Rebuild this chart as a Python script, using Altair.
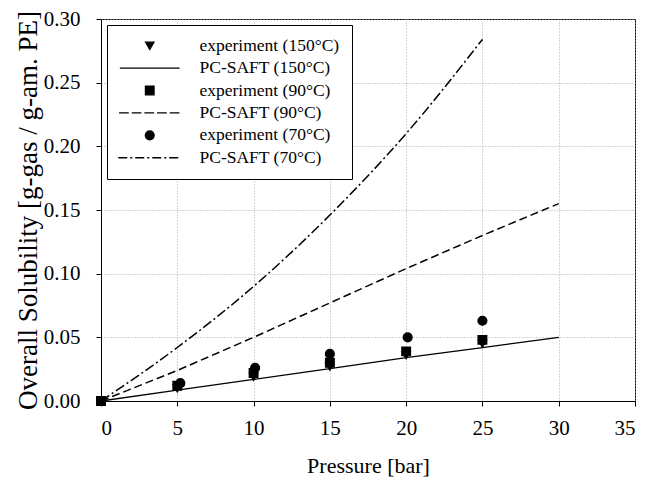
import altair as alt
import pandas as pd

# ---------------- data ----------------
labels = [
    "experiment (150°C)",
    "PC-SAFT (150°C)",
    "experiment (90°C)",
    "PC-SAFT (90°C)",
    "experiment (70°C)",
    "PC-SAFT (70°C)",
]

p_exp150 = [0, 5, 10, 15, 20, 25]
exp150 = [0.0, 0.010, 0.019, 0.027, 0.036, 0.045]
p_exp90 = [0, 5, 10, 15, 20, 25]
exp90 = [0.0, 0.012, 0.022, 0.030, 0.039, 0.048]
p_exp70 = [0, 5.2, 10.1, 15, 20.1, 25]
exp70 = [0.0, 0.014, 0.026, 0.037, 0.050, 0.063]

p_saft150 = [0, 5, 10, 15, 20, 25, 30]
saft150 = [0.0, 0.0085, 0.017, 0.0255, 0.034, 0.042, 0.050]
p_saft90 = [0, 5, 10, 15, 20, 25, 30]
saft90 = [0.0, 0.024, 0.050, 0.077, 0.104, 0.130, 0.155]
p_saft70 = [0, 5, 10, 15, 20, 25]
saft70 = [0.0, 0.042, 0.090, 0.146, 0.210, 0.284]

x_ticks = [0, 5, 10, 15, 20, 25, 30, 35]
y_ticks = [0.0, 0.05, 0.10, 0.15, 0.20, 0.25, 0.30]

FONT = "Liberation Serif"

# ---------------- legend symbols (styles) ----------------
LEG_SIZE = 80
S = (LEG_SIZE ** 0.5) / 2.0
LINE_LEN = 63.0


def dash_path(pattern, length_px=LINE_LEN):
    half = length_px / 2.0
    segs = []
    x = -half
    i = 0
    while x < half - 1e-9:
        seg = pattern[i % len(pattern)]
        if i % 2 == 0:
            x2 = min(x + seg, half)
            segs.append(f"M{x / S:.3f},0H{x2 / S:.3f}")
        x += seg
        i += 1
    return "".join(segs)


solid_path = dash_path([LINE_LEN, 0])
dashed_path = dash_path([10.0, 3.0])
dashdot_path = dash_path([9.0, 3.0, 2.0, 3.0])

shape_range = ["triangle-down", solid_path, "square", dashed_path, "circle", dashdot_path]
size_range = [70, LEG_SIZE, 45, LEG_SIZE, 80, LEG_SIZE]

# ---------------- data frames ----------------
df_e150 = pd.DataFrame({"pressure": p_exp150, "solubility": exp150, "series": labels[0]})
df_e90 = pd.DataFrame({"pressure": p_exp90, "solubility": exp90, "series": labels[2]})
df_e70 = pd.DataFrame({"pressure": p_exp70, "solubility": exp70, "series": labels[4]})

df150 = pd.DataFrame({"pressure": p_saft150, "solubility": saft150})
df90 = pd.DataFrame({"pressure": p_saft90, "solubility": saft90})
df70 = pd.DataFrame({"pressure": p_saft70, "solubility": saft70})

xenc = alt.X(
    "pressure:Q",
    scale=alt.Scale(domain=[0, 35], nice=False, zero=False),
    axis=alt.Axis(values=x_ticks, format="d", title="Pressure [bar]",
                  labelFont=FONT, titleFont=FONT,
                  titleFontSize=22, labelFontSize=21, labelPadding=11,
                  titlePadding=17),
)
yenc = alt.Y(
    "solubility:Q",
    scale=alt.Scale(domain=[0, 0.30], nice=False, zero=False),
    axis=alt.Axis(values=y_ticks, format=".2f",
                  title="Overall Solubility [g-gas / g-am. PE]",
                  labelFont=FONT, titleFont=FONT,
                  titleFontSize=27, labelFontSize=21, labelPadding=16,
                  titlePadding=1),
)

line150 = alt.Chart(df150).mark_line(color="black", strokeWidth=1.3).encode(x=xenc, y=yenc)
line90 = alt.Chart(df90).mark_line(color="black", strokeWidth=1.5, strokeDash=[8, 4]).encode(x=xenc, y=yenc)
line70 = alt.Chart(df70).mark_line(color="black", strokeWidth=1.5, strokeDash=[10, 3, 2, 3],
                                   interpolate="monotone").encode(x=xenc, y=yenc)

legend = alt.Legend(
    title=None, orient="top-left", offset=6, padding=12,
    strokeColor="black", fillColor="white",
    labelFont=FONT, labelFontSize=17.5, labelColor="black", labelLimit=300,
    symbolOffset=22, labelOffset=41, rowPadding=3.4,
    symbolStrokeWidth=1.3,
)

shape_enc = alt.Shape("series:N", scale=alt.Scale(domain=labels, range=shape_range), legend=legend)
size_enc = alt.Size("series:N", scale=alt.Scale(domain=labels, range=size_range), legend=legend)


def pts(df):
    return alt.Chart(df).mark_point(
        filled=False, fill="black", color="black", stroke="black",
        strokeWidth=1.3, opacity=1, fillOpacity=1,
    ).encode(x=xenc, y=yenc, shape=shape_enc, size=size_enc)


chart = alt.layer(line150, line90, line70, pts(df_e70), pts(df_e90), pts(df_e150)).properties(
    width=534,
    height=382,
    autosize=alt.AutoSizeParams(type="none"),
    padding={"left": 93, "top": 11, "right": 4, "bottom": 78},
).configure_axis(
    labelFont=FONT, titleFont=FONT, labelColor="black", titleColor="black",
    titleFontWeight="normal", domainColor="black", tickColor="black",
    tickSize=5, gridColor="#a8a8a8", gridDash=[1, 2], gridWidth=1,
).configure_view(stroke="black", strokeWidth=1)

chart.save("out.html", embed_options={"renderer": "svg", "actions": False})
